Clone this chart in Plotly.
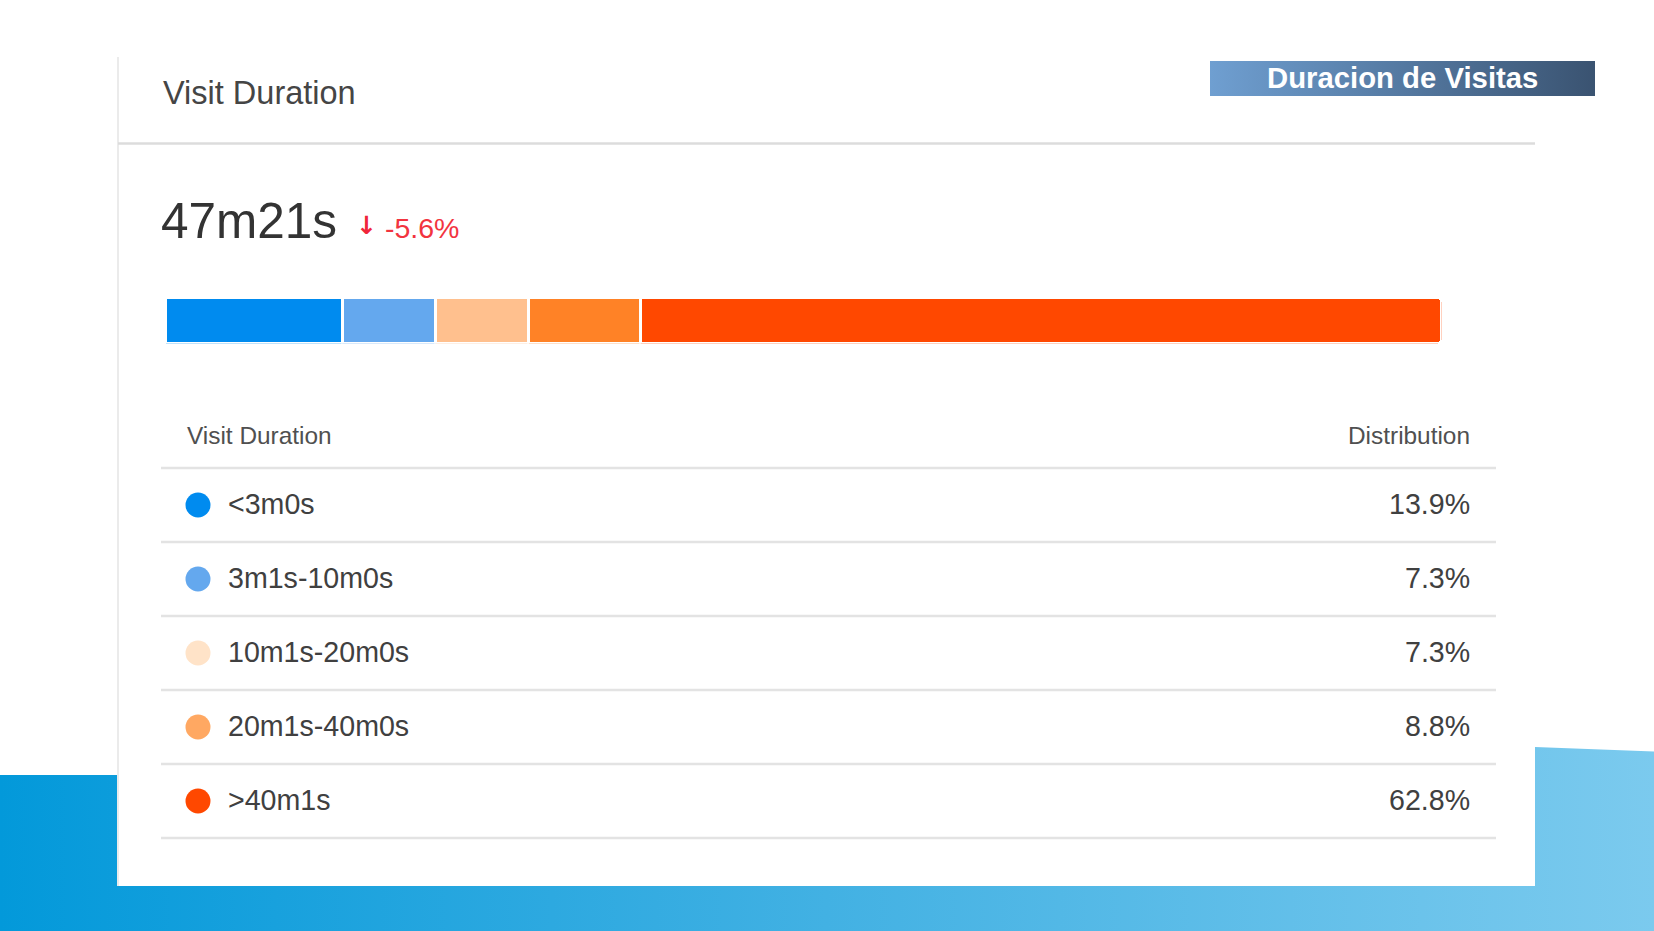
import plotly.graph_objects as go

# ---------------- data ----------------
categories = ["<3m0s", "3m1s-10m0s", "10m1s-20m0s", "20m1s-40m0s", ">40m1s"]
distribution = [13.9, 7.3, 7.3, 8.8, 62.8]
value_labels = ["13.9%", "7.3%", "7.3%", "8.8%", "62.8%"]
headline_value = "47m21s"
headline_change = "-5.6%"
card_title = "Visit Duration"
badge_title = "Duracion de Visitas"
table_headers = ["Visit Duration", "Distribution"]

# ---------------- styles ----------------
bar_colors = ["#008bef", "#64a8ee", "#ffc08e", "#ff8226", "#ff4800"]
dot_colors = ["#008bef", "#64a8ee", "#ffe3c8", "#ffa862", "#ff4800"]
FONT = "Liberation Sans, Arial, sans-serif"
W, H = 1654, 931

# layout (pixels)
CARD_L, CARD_R, CARD_T, CARD_B = 118, 1535, 57, 886
BAR_L, BAR_R, BAR_T, BAR_B = 165.5, 1441.5, 297.5, 343.5
ROW0, PITCH = 505, 74
DOT_X, LABEL_X, VALUE_X = 198, 226, 1471
TBL_L, TBL_R = 161, 1496

fig = go.Figure()

# background gradient (pixel canvas = x/y)
fig.add_trace(go.Scatter(
    x=[0, CARD_R, CARD_R, W, W, 0, 0],
    y=[775, 775, 747, 751.5, H, H, 775],
    mode="lines", line=dict(width=0), fill="toself",
    fillgradient=dict(type="horizontal",
                      colorscale=[[0, "#0399da"], [0.5, "#42b1e3"], [1, "#7bcaee"]]),
    hoverinfo="skip", showlegend=False, xaxis="x", yaxis="y"))

# white card
fig.add_trace(go.Scatter(
    x=[CARD_L, CARD_R, CARD_R, CARD_L, CARD_L],
    y=[CARD_T, CARD_T, CARD_B, CARD_B, CARD_T],
    mode="lines", line=dict(width=0), fill="toself", fillcolor="white",
    hoverinfo="skip", showlegend=False, xaxis="x", yaxis="y"))

# badge
fig.add_trace(go.Scatter(
    x=[1210, 1595, 1595, 1210, 1210],
    y=[61, 61, 96, 96, 61],
    mode="lines", line=dict(width=0), fill="toself",
    fillgradient=dict(type="horizontal",
                      colorscale=[[0, "#6f9fd1"], [1, "#3a5371"]]),
    hoverinfo="skip", showlegend=False, xaxis="x", yaxis="y"))

# legend dots in the table
fig.add_trace(go.Scatter(
    x=[DOT_X] * len(categories),
    y=[ROW0 + i * PITCH for i in range(len(categories))],
    mode="markers",
    marker=dict(size=25, color=dot_colors, line=dict(width=0)),
    hoverinfo="skip", showlegend=False, xaxis="x", yaxis="y"))

# stacked distribution bar (x2/y2)
for cat, val, col in zip(categories, distribution, bar_colors):
    fig.add_trace(go.Bar(
        x=[val], y=["bar"], orientation="h", name=cat,
        marker=dict(color=col, line=dict(color="white", width=3)),
        width=1, hoverinfo="skip", showlegend=False,
        xaxis="x2", yaxis="y2"))

shapes = []
# card left border
shapes.append(dict(type="line", xref="x", yref="y", x0=CARD_L, x1=CARD_L,
                   y0=CARD_T, y1=CARD_B, line=dict(color="#ebebeb", width=2), layer="above"))
# card header separator
shapes.append(dict(type="line", xref="x", yref="y", x0=CARD_L, x1=CARD_R,
                   y0=143.5, y1=143.5, line=dict(color="#dcdcdc", width=2.5), layer="above"))
# table separators
for k in range(len(categories) + 1):
    yy = ROW0 - PITCH / 2 + k * PITCH
    shapes.append(dict(type="line", xref="x", yref="y", x0=TBL_L, x1=TBL_R,
                       y0=yy, y1=yy, line=dict(color="#e3e3e3", width=2.5), layer="above"))

ann = []
ann.append(dict(x=161, y=93, text=card_title, xanchor="left", yanchor="middle",
                font=dict(family=FONT, size=32.5, color="#454545")))
ann.append(dict(x=1402, y=77.5, text=f"<b>{badge_title}</b>", xanchor="center", yanchor="middle",
                font=dict(family=FONT, size=29.3, color="white")))
ann.append(dict(x=159, y=220, text=headline_value, xanchor="left", yanchor="middle",
                font=dict(family=FONT, size=49.5, color="#333333")))
ann.append(dict(x=354, y=225, text="<b>↓</b>", xanchor="left", yanchor="middle",
                font=dict(family="DejaVu Sans", size=25, color="#f0253a")))
ann.append(dict(x=383, y=227.5, text=headline_change, xanchor="left", yanchor="middle",
                font=dict(family=FONT, size=28.5, color="#f2343f")))
ann.append(dict(x=185, y=435.5, text=table_headers[0], xanchor="left", yanchor="middle",
                font=dict(family=FONT, size=24.4, color="#505050")))
ann.append(dict(x=VALUE_X + 1, y=435.5, text=table_headers[1], xanchor="right", yanchor="middle",
                font=dict(family=FONT, size=24.4, color="#505050")))
for i, (cat, lab) in enumerate(zip(categories, value_labels)):
    yy = ROW0 + i * PITCH - 1.5
    ann.append(dict(x=LABEL_X, y=yy, text=cat.replace("<", "&lt;").replace(">", "&gt;"),
                    xanchor="left", yanchor="middle",
                    font=dict(family=FONT, size=28.6, color="#404040")))
    ann.append(dict(x=VALUE_X + 1, y=yy, text=lab, xanchor="right", yanchor="middle",
                    font=dict(family=FONT, size=28.6, color="#404040")))
for a in ann:
    a.update(xref="x", yref="y", showarrow=False)

fig.update_layout(
    width=W, height=H, margin=dict(l=0, r=0, t=0, b=0),
    paper_bgcolor="white", plot_bgcolor="rgba(0,0,0,0)",
    barmode="stack", barcornerradius=4,
    showlegend=False, hovermode=False,
    xaxis=dict(domain=[0, 1], range=[0, W], visible=False, fixedrange=True),
    yaxis=dict(domain=[0, 1], range=[H, 0], visible=False, fixedrange=True),
    xaxis2=dict(domain=[BAR_L / W, BAR_R / W], range=[0, sum(distribution)],
                visible=False, fixedrange=True, anchor="y2"),
    yaxis2=dict(domain=[1 - BAR_B / H, 1 - BAR_T / H], range=[-0.5, 0.5],
                visible=False, fixedrange=True, anchor="x2"),
    shapes=shapes, annotations=ann,
)

fig.write_html("out.html", config={"displayModeBar": False, "staticPlot": True},
               post_script="document.body.style.margin='0px'; document.body.style.overflow='hidden';")
